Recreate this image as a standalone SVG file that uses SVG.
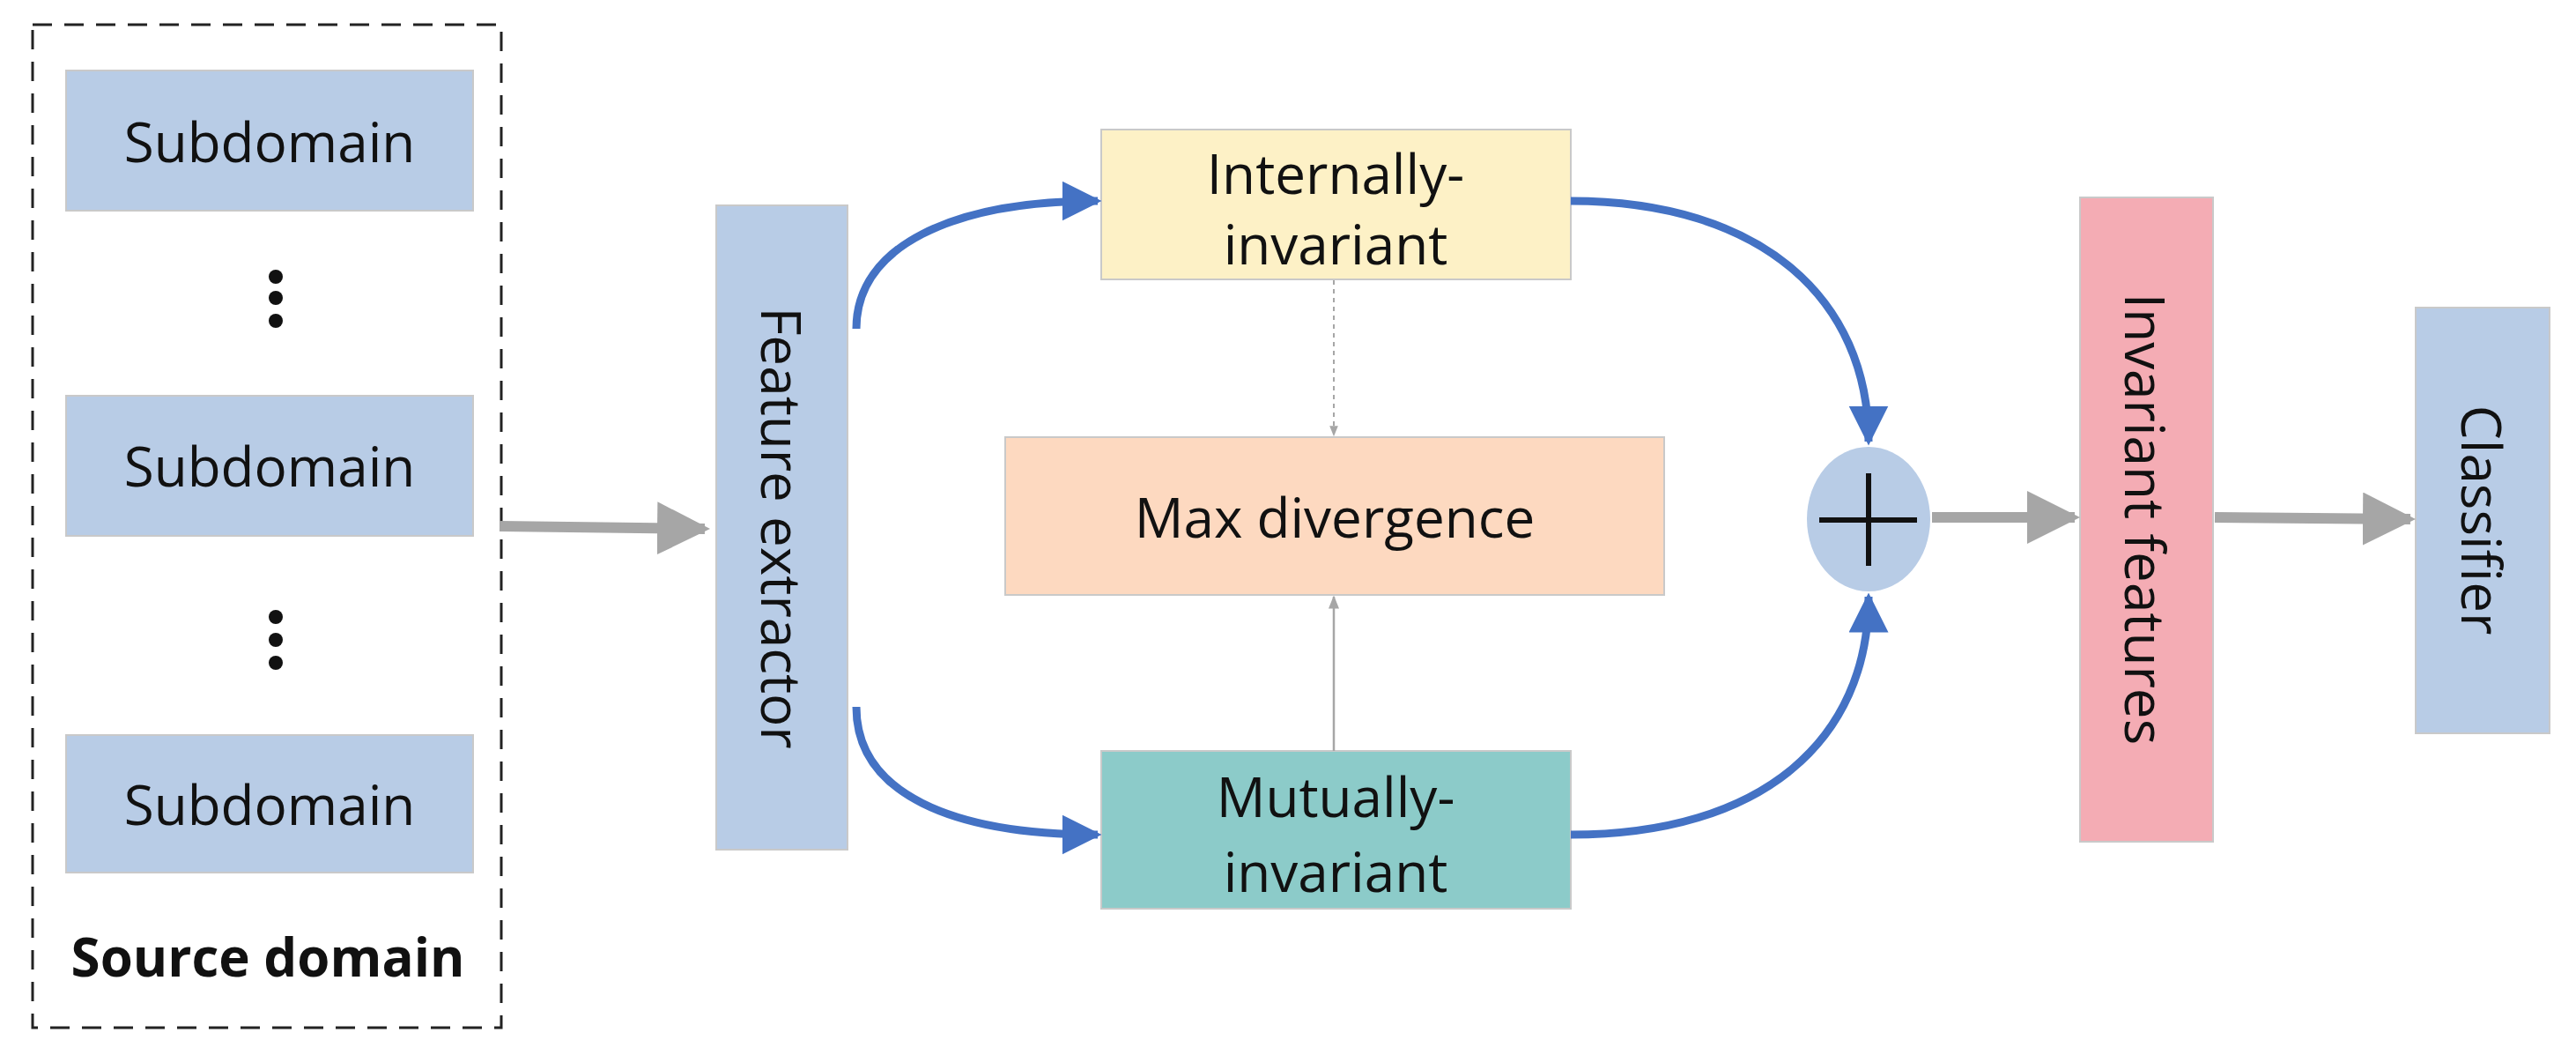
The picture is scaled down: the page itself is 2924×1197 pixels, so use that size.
<svg xmlns="http://www.w3.org/2000/svg" width="2924" height="1197" viewBox="0 0 2924 1197">
<style>
text{font-family:"Open Sans","Liberation Sans",sans-serif;font-size:62px;fill:#111;text-anchor:middle;dominant-baseline:central}
.b{fill:#b8cce6;stroke:#c9c9c9;stroke-width:2}
.blue{fill:none;stroke:#4472c4;stroke-width:9}
.gray{fill:none;stroke:#a6a6a6;stroke-width:12}
</style>
<defs>
<marker id="ab" viewBox="0 0 10 10" refX="9" refY="5" markerWidth="5" markerHeight="5" orient="auto" markerUnits="strokeWidth"><path d="M0,0L10,5L0,10z" fill="#4472c4"/></marker>
<marker id="ag" viewBox="0 0 10 10" refX="9" refY="5" markerWidth="5" markerHeight="5" orient="auto" markerUnits="strokeWidth"><path d="M0,0L10,5L0,10z" fill="#a6a6a6"/></marker>
<marker id="at" viewBox="0 0 10 10" refX="9" refY="5" markerWidth="6" markerHeight="6" orient="auto"><path d="M0,1L10,5L0,9z" fill="#a6a6a6"/></marker>
</defs>
<g id="source">
<rect x="37" y="28" width="532" height="1138" fill="none" stroke="#222" stroke-width="3" stroke-dasharray="22,14"/>
<text x="304" y="1085" style="font-weight:bold;font-size:60px">Source domain</text>
</g>
<g id="sub1"><rect class="b" x="75" y="80" width="462" height="159"/><text x="306" y="160">Subdomain</text></g>
<g id="sub2"><rect class="b" x="75" y="449" width="462" height="159"/><text x="306" y="528">Subdomain</text></g>
<g id="sub3"><rect class="b" x="75" y="834" width="462" height="156"/><text x="306" y="912">Subdomain</text></g>
<g id="dots" fill="#111">
<circle cx="313" cy="314" r="8"/><circle cx="313" cy="338" r="8"/><circle cx="313" cy="364" r="8"/>
<circle cx="313" cy="700" r="8"/><circle cx="313" cy="726" r="8"/><circle cx="313" cy="752" r="8"/>
</g>
<g id="fe"><rect class="b" x="813" y="233" width="149" height="731"/><text transform="translate(888,599) rotate(90)">Feature extractor</text></g>
<g id="internal"><rect x="1250" y="147" width="533" height="170" fill="#fdf1c6" stroke="#c9c9c9" stroke-width="2"/><text x="1516" y="196">Internally-</text><text x="1516" y="276">invariant</text></g>
<g id="maxdiv"><rect x="1141" y="496" width="748" height="179" fill="#fdd9c0" stroke="#c9c9c9" stroke-width="2"/><text x="1515" y="586">Max divergence</text></g>
<g id="mutual"><rect x="1250" y="852" width="533" height="179" fill="#8ccbc9" stroke="#c9c9c9" stroke-width="2"/><text x="1516" y="903">Mutually-</text><text x="1516" y="988">invariant</text></g>
<g id="plus"><ellipse cx="2121" cy="589" rx="70" ry="82" fill="#b8cce6"/><path d="M2065,590H2176M2121,537V642" stroke="#111" stroke-width="6"/></g>
<g id="invf"><rect x="2361" y="224" width="151" height="731" fill="#f4acb4" stroke="#c9c9c9" stroke-width="2"/><text transform="translate(2436,589) rotate(90)">Invariant features</text></g>
<g id="cls"><rect class="b" x="2742" y="349" width="152" height="483"/><text transform="translate(2818,590) rotate(90)">Classifier</text></g>
<g id="connectors">
<path class="gray" d="M567,597L800,600" marker-end="url(#ag)"/>
<path class="gray" d="M2193,587L2355,587" marker-end="url(#ag)"/>
<path class="gray" d="M2514,587L2736,589" marker-end="url(#ag)"/>
<path class="blue" d="M972,373C972,280 1080,228 1246,228" marker-end="url(#ab)"/>
<path class="blue" d="M972,802C972,900 1080,947 1246,947" marker-end="url(#ab)"/>
<path class="blue" d="M1783,228C2000,228 2121,340 2121,501" marker-end="url(#ab)"/>
<path class="blue" d="M1783,947C2000,947 2121,840 2121,677" marker-end="url(#ab)"/>
<path d="M1514,318V494" stroke="#a6a6a6" stroke-width="2" stroke-dasharray="5,5" fill="none" marker-end="url(#at)"/>
<path d="M1514,852V677" stroke="#a6a6a6" stroke-width="2.5" fill="none" marker-end="url(#at)"/>
</g>
</svg>
